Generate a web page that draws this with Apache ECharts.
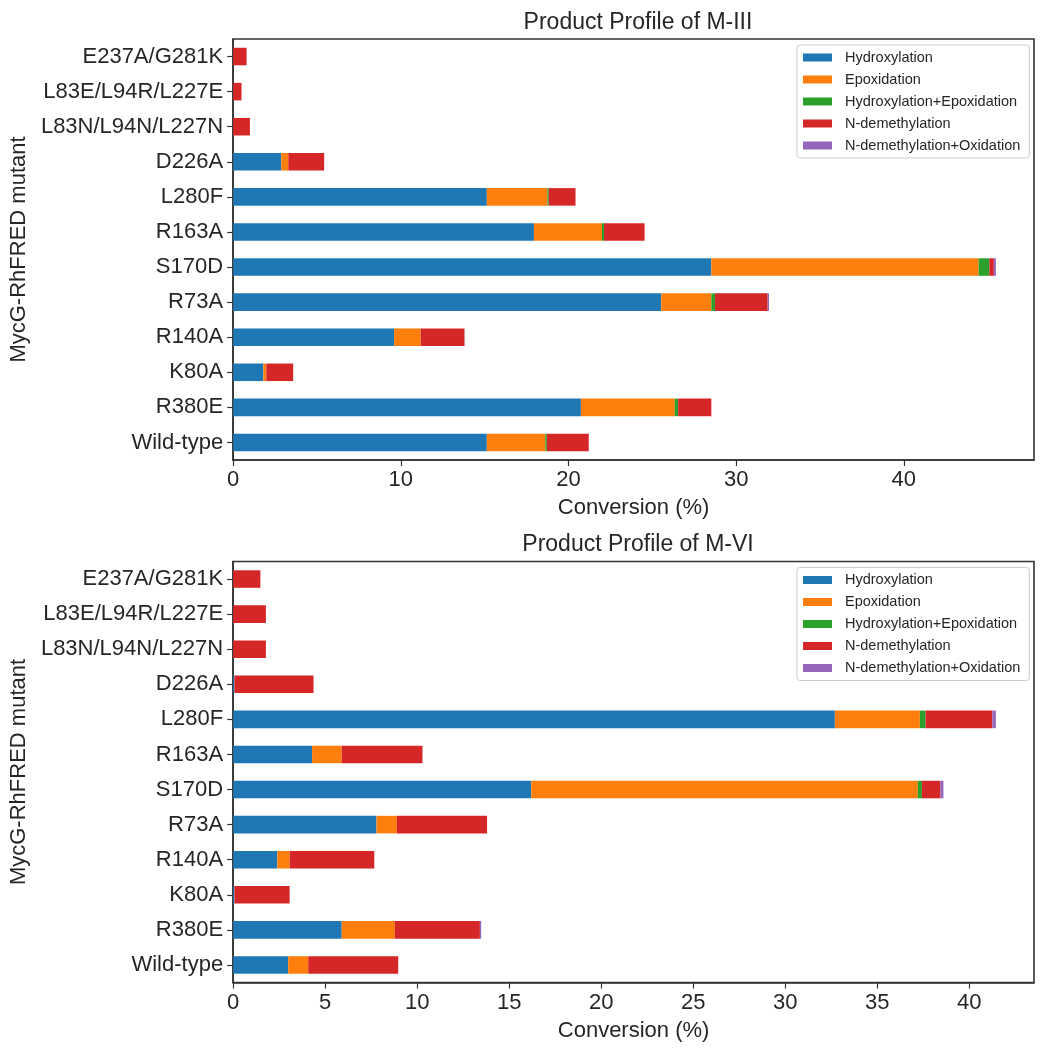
<!DOCTYPE html>
<html>
<head>
<meta charset="utf-8">
<script src="https://cdn.jsdelivr.net/npm/echarts@6/dist/echarts.min.js"></script>
<style>
html,body{margin:0;padding:0;background:#fff;}
#chart{width:1044px;height:1050px;}
</style>
</head>
<body>
<div id="chart"></div>
<script>
// Categories (top to bottom)
const mutants = ['E237A/G281K','L83E/L94R/L227E','L83N/L94N/L227N','D226A','L280F','R163A','S170D','R73A','R140A','K80A','R380E','Wild-type'];
const productTypes = ['Hydroxylation','Epoxidation','Hydroxylation+Epoxidation','N-demethylation','N-demethylation+Oxidation'];

// M-III values (%)
const m3Hydroxylation = [0,0,0,2.87,15.13,17.94,28.52,25.53,9.6,1.8,20.74,15.13];
const m3Epoxidation   = [0,0,0,0.42,3.61,4.06,15.94,2.99,1.59,0.18,5.6,3.49];
const m3HydEpox       = [0,0,0,0,0.08,0.12,0.64,0.22,0,0,0.2,0.09];
const m3NDemethyl     = [0.8,0.5,1.0,2.14,1.6,2.42,0.27,3.14,2.61,1.6,1.98,2.5];
const m3NDemethylOx   = [0,0,0,0,0,0,0.12,0.08,0,0,0,0];

// M-VI values (%)
const m6Hydroxylation = [0,0,0,0.07,32.7,4.29,16.2,7.79,2.4,0.07,5.9,2.99];
const m6Epoxidation   = [0,0,0,0,4.62,1.61,21.01,1.11,0.67,0,2.89,1.09];
const m6HydEpox       = [0,0,0,0,0.31,0,0.22,0,0,0,0,0];
const m6NDemethyl     = [1.48,1.78,1.78,4.3,3.63,4.39,1.01,4.9,4.6,3.0,4.62,4.89];
const m6NDemethylOx   = [0,0,0,0,0.19,0,0.16,0,0,0,0.07,0];

const titles = ['Product Profile of M-III','Product Profile of M-VI'];
const xTicksTop = [0,10,20,30,40];
const xTicksBottom = [0,5,10,15,20,25,30,35,40];

const colors = ['#1f77b4','#ff7f0e','#2ca02c','#d62728','#9467bd'];
const textColor = '#262626';
const frameColor = '#333333';
const fontFamily = 'Liberation Sans, Arial, sans-serif';

const m3 = [m3Hydroxylation,m3Epoxidation,m3HydEpox,m3NDemethyl,m3NDemethylOx];
const m6 = [m6Hydroxylation,m6Epoxidation,m6HydEpox,m6NDemethyl,m6NDemethylOx];

function maxTotal(arrs){
  let m = 0;
  for (let i=0;i<mutants.length;i++){
    let s=0; arrs.forEach(a=>s+=a[i]); m=Math.max(m,s);
  }
  return m*1.05;
}

const gridTops = [39, 561.5];
const gridH = 421;

function xAxis(idx, interval, max, ticks){
  return {
    type:'value', gridIndex:idx, min:0, max:max, interval:interval,
    name:'Conversion (%)', nameLocation:'middle', nameGap:37,
    nameTextStyle:{fontSize:22, color:textColor, fontFamily},
    axisLine:{show:true, lineStyle:{color:frameColor, width:1.6}},
    axisTick:{show:true, length:6, lineStyle:{color:frameColor, width:1.2}},
    axisLabel:{fontSize:22, color:textColor, fontFamily, margin:9, showMaxLabel:false,
      formatter:v => ticks.indexOf(v) >= 0 ? String(v) : ''},
    splitLine:{show:false}
  };
}
function yAxis(idx){
  return {
    type:'category', gridIndex:idx, data:mutants, inverse:true,
    name:'MycG-RhFRED mutant', nameLocation:'middle', nameGap:200, nameRotate:90,
    nameTextStyle:{fontSize:22, color:textColor, fontFamily},
    axisLine:{show:true, lineStyle:{color:frameColor, width:1.6}},
    axisTick:{show:true, length:6, alignWithLabel:true, lineStyle:{color:frameColor, width:1.2}},
    axisLabel:{fontSize:22, color:textColor, fontFamily, margin:10, interval:0},
    splitLine:{show:false}
  };
}

const series = [];
[m3, m6].forEach((set, gi) => {
  set.forEach((arr, k) => {
    series.push({
      type:'bar', name:productTypes[k], xAxisIndex:gi, yAxisIndex:gi,
      stack:'s'+gi, barWidth:'50%', data:arr,
      itemStyle:{color:colors[k]}, emphasis:{disabled:true}
    });
  });
});

function legend(top){
  return {
    data:productTypes, orient:'vertical', left:797, top:top,
    icon:'rect', itemWidth:29, itemHeight:8, itemGap:7,
    padding:[5,9,5,6],
    backgroundColor:'#fff', borderColor:'#cccccc', borderWidth:1, borderRadius:3,
    textStyle:{fontSize:14.5, color:textColor, fontFamily, padding:[0,0,0,8]}
  };
}

const chart = echarts.init(document.getElementById('chart'), null, {renderer:'canvas'});
chart.setOption({
  animation:false,
  color:colors,
  title:[
    {text:titles[0], left:633, top:6, textAlign:'center', textStyle:{fontSize:23, fontWeight:'normal', color:textColor, fontFamily}},
    {text:titles[1], left:633, top:528.5, textAlign:'center', textStyle:{fontSize:23, fontWeight:'normal', color:textColor, fontFamily}}
  ],
  legend:[legend(45), legend(567.5)],
  grid:[
    {left:232, right:10, top:gridTops[0], height:gridH, show:true, borderColor:frameColor, borderWidth:1.6, backgroundColor:'#fff'},
    {left:232, right:10, top:gridTops[1], height:gridH, show:true, borderColor:frameColor, borderWidth:1.6, backgroundColor:'#fff'}
  ],
  xAxis:[xAxis(0,10,maxTotal(m3),xTicksTop), xAxis(1,5,maxTotal(m6),xTicksBottom)],
  yAxis:[yAxis(0), yAxis(1)],
  series:series
});
</script>
</body>
</html>
